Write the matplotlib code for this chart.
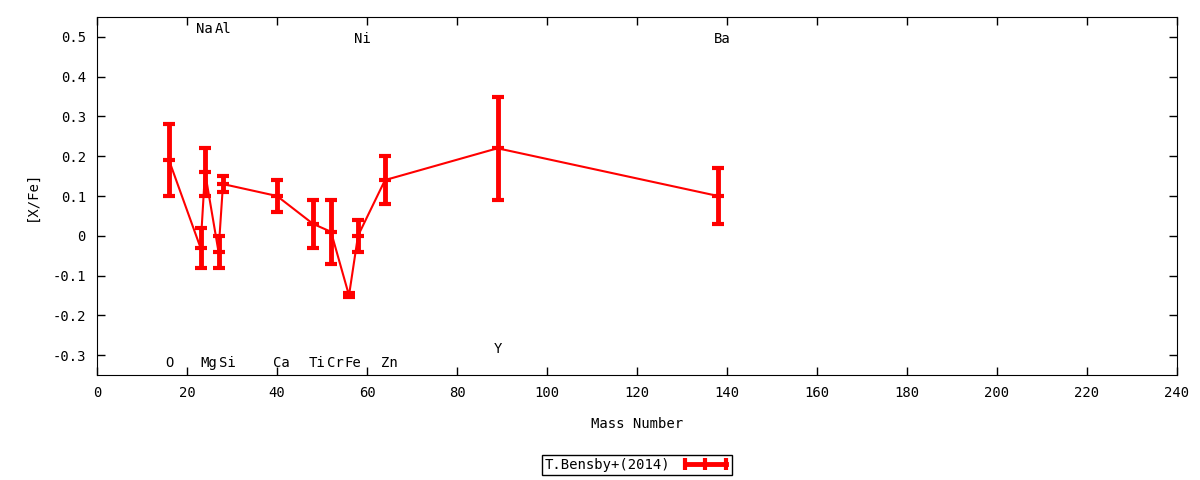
import numpy as np
import matplotlib
matplotlib.use('Agg')
import matplotlib.pyplot as plt
from matplotlib.lines import Line2D
from matplotlib.legend_handler import HandlerLine2D

# abundance ratios [X/Fe] vs mass number, T.Bensby+(2014)
elements = ['O', 'Na', 'Mg', 'Al', 'Si', 'Ca', 'Ti', 'Cr', 'Fe', 'Ni', 'Zn', 'Y', 'Ba']
mass_number = [16, 23, 24, 27, 28, 40, 48, 52, 56, 58, 64, 89, 138]
x_fe = [0.19, -0.03, 0.16, -0.04, 0.13, 0.10, 0.03, 0.01, -0.15, 0.00, 0.14, 0.22, 0.10]
x_fe_err = [0.09, 0.05, 0.06, 0.04, 0.02, 0.04, 0.06, 0.08, 0.005, 0.04, 0.06, 0.13, 0.07]

# where the element names sit (y value)
label_y = [-0.32, 0.52, -0.32, 0.52, -0.32, -0.32, -0.32, -0.32, -0.32, 0.495, -0.32, -0.285, 0.495]

plt.rcParams['font.family'] = 'DejaVu Sans Mono'
plt.rcParams['font.size'] = 10

fig = plt.figure(figsize=(12, 4.8), dpi=100)
ax = fig.add_axes([97/1200., 1 - 375/480., 1080/1200., 358/480.])

ax.errorbar(mass_number, x_fe, yerr=x_fe_err, color='#ff0000', lw=1.5,
            elinewidth=3.5, capsize=4.5, capthick=3,
            marker='_', markersize=9, markeredgewidth=3)

for el, m, ly in zip(elements, mass_number, label_y):
    ax.annotate(el, (m, ly), xytext=(-3, 0), textcoords='offset points',
                ha='left', va='center', fontsize=10)

ax.set_xlim(0, 240)
ax.set_ylim(-0.35, 0.55)
ax.set_xticks(np.arange(0, 241, 20))
yt = [-0.3, -0.2, -0.1, 0, 0.1, 0.2, 0.3, 0.4, 0.5]
ax.set_yticks(yt)
ax.set_yticklabels(['-0.3', '-0.2', '-0.1', '0', '0.1', '0.2', '0.3', '0.4', '0.5'])
ax.tick_params(direction='in', top=True, right=True, length=6, width=1, pad=8)

ax.set_xlabel('Mass Number', labelpad=12)
ax.set_ylabel('[X/Fe]', labelpad=10)

# gnuplot style key sample: thick line with ticks at both ends and in the middle
proxy = Line2D([], [], color='#ff0000', lw=3.5, marker='|', markersize=9, markeredgewidth=3)
leg = ax.legend(handles=[proxy], labels=['T.Bensby+(2014)'],
                handler_map={proxy: HandlerLine2D(numpoints=3)},
                loc='upper center', bbox_to_anchor=(0.5, -0.224), markerfirst=False,
                fancybox=False, framealpha=1, edgecolor='black', borderpad=0.2,
                handlelength=3.5, borderaxespad=0)
leg.get_frame().set_linewidth(1)

fig.savefig('out.png', dpi=100)
